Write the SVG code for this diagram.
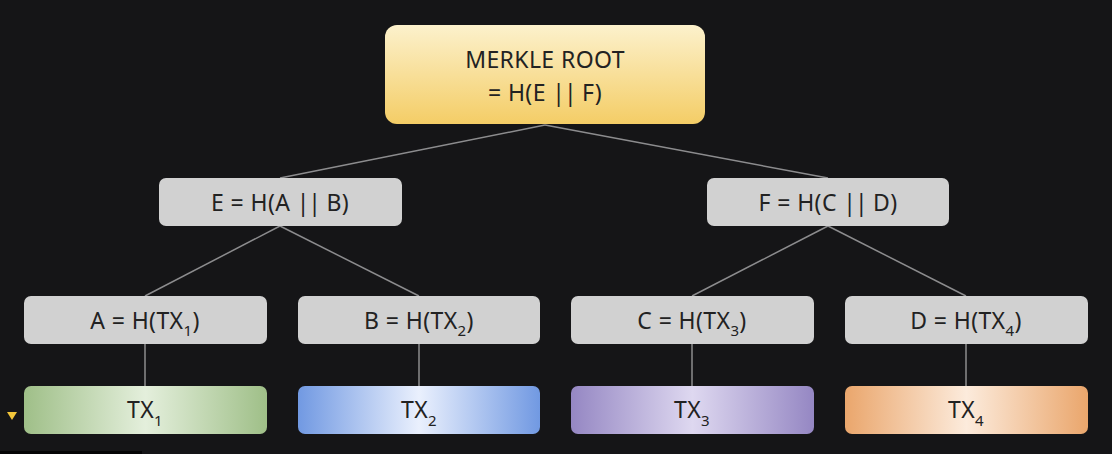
<svg xmlns="http://www.w3.org/2000/svg" width="1112" height="454" viewBox="0 0 1112 454">
<defs>
<linearGradient id="gRoot" x1="0" y1="0" x2="0" y2="1">
<stop offset="0" stop-color="#fcf1cc"/>
<stop offset="1" stop-color="#f4cd66"/>
</linearGradient>
<linearGradient id="gTx1" x1="0" y1="0" x2="1" y2="0">
<stop offset="0" stop-color="#9fbf88"/>
<stop offset="0.5" stop-color="#e4efdc"/>
<stop offset="1" stop-color="#9fbf88"/>
</linearGradient>
<linearGradient id="gTx2" x1="0" y1="0" x2="1" y2="0">
<stop offset="0" stop-color="#7199e2"/>
<stop offset="0.5" stop-color="#eaf0fd"/>
<stop offset="1" stop-color="#7199e2"/>
</linearGradient>
<linearGradient id="gTx3" x1="0" y1="0" x2="1" y2="0">
<stop offset="0" stop-color="#9587c3"/>
<stop offset="0.5" stop-color="#ded8f0"/>
<stop offset="1" stop-color="#9587c3"/>
</linearGradient>
<linearGradient id="gTx4" x1="0" y1="0" x2="1" y2="0">
<stop offset="0" stop-color="#eaa66c"/>
<stop offset="0.5" stop-color="#fcebdc"/>
<stop offset="1" stop-color="#eaa66c"/>
</linearGradient>
</defs>
<style>
text{font-family:"Noto Sans","Liberation Sans",sans-serif;fill:#222;font-size:23px;text-anchor:middle;letter-spacing:0.4px}
.hash{fill:#d1d1d1}
.edge{stroke:#8c8c8e;stroke-width:1.5;fill:none}
tspan.sub{font-size:15px}
.bars{letter-spacing:-1px}
</style>
<rect width="1112" height="454" fill="#151517"/>
<rect x="0" y="451" width="142" height="3" fill="#050506"/>
<polygon points="7,412 17,412 12,420" fill="#f2c53a"/>
<g id="connectors">
<line class="edge" x1="545" y1="125" x2="280" y2="178"/>
<line class="edge" x1="545" y1="125" x2="828" y2="178"/>
<line class="edge" x1="280" y1="226" x2="145" y2="296"/>
<line class="edge" x1="280" y1="226" x2="419" y2="296"/>
<line class="edge" x1="828" y1="226" x2="692" y2="296"/>
<line class="edge" x1="828" y1="226" x2="966" y2="296"/>
<line class="edge" x1="145" y1="344" x2="145" y2="386"/>
<line class="edge" x1="419" y1="344" x2="419" y2="386"/>
<line class="edge" x1="692" y1="344" x2="692" y2="386"/>
<line class="edge" x1="966" y1="344" x2="966" y2="386"/>
</g>
<g id="root">
<rect x="385" y="25" width="320" height="99" rx="12" fill="url(#gRoot)"/>
<text x="545" y="68">MERKLE ROOT</text>
<text x="545" y="101">= H(E <tspan class="bars">||</tspan> F)</text>
</g>
<g id="E">
<rect class="hash" x="159" y="178" width="243" height="48" rx="7"/>
<text x="280" y="211">E = H(A <tspan class="bars">||</tspan> B)</text>
</g>
<g id="F">
<rect class="hash" x="707" y="178" width="242" height="48" rx="7"/>
<text x="828" y="211">F = H(C <tspan class="bars">||</tspan> D)</text>
</g>
<g id="A">
<rect class="hash" x="24" y="296" width="243" height="48" rx="7"/>
<text x="145" y="329">A = H(TX<tspan class="sub" dy="7">1</tspan><tspan dy="-7">)</tspan></text>
</g>
<g id="B">
<rect class="hash" x="298" y="296" width="242" height="48" rx="7"/>
<text x="419" y="329">B = H(TX<tspan class="sub" dy="7">2</tspan><tspan dy="-7">)</tspan></text>
</g>
<g id="C">
<rect class="hash" x="571" y="296" width="243" height="48" rx="7"/>
<text x="692" y="329">C = H(TX<tspan class="sub" dy="7">3</tspan><tspan dy="-7">)</tspan></text>
</g>
<g id="D">
<rect class="hash" x="845" y="296" width="243" height="48" rx="7"/>
<text x="966" y="329">D = H(TX<tspan class="sub" dy="7">4</tspan><tspan dy="-7">)</tspan></text>
</g>
<g id="TX1">
<rect x="24" y="386" width="243" height="48" rx="7" fill="url(#gTx1)"/>
<text x="145" y="418">TX<tspan class="sub" dy="8">1</tspan></text>
</g>
<g id="TX2">
<rect x="298" y="386" width="242" height="48" rx="7" fill="url(#gTx2)"/>
<text x="419" y="418">TX<tspan class="sub" dy="8">2</tspan></text>
</g>
<g id="TX3">
<rect x="571" y="386" width="243" height="48" rx="7" fill="url(#gTx3)"/>
<text x="692" y="418">TX<tspan class="sub" dy="8">3</tspan></text>
</g>
<g id="TX4">
<rect x="845" y="386" width="243" height="48" rx="7" fill="url(#gTx4)"/>
<text x="966" y="418">TX<tspan class="sub" dy="8">4</tspan></text>
</g>
</svg>
